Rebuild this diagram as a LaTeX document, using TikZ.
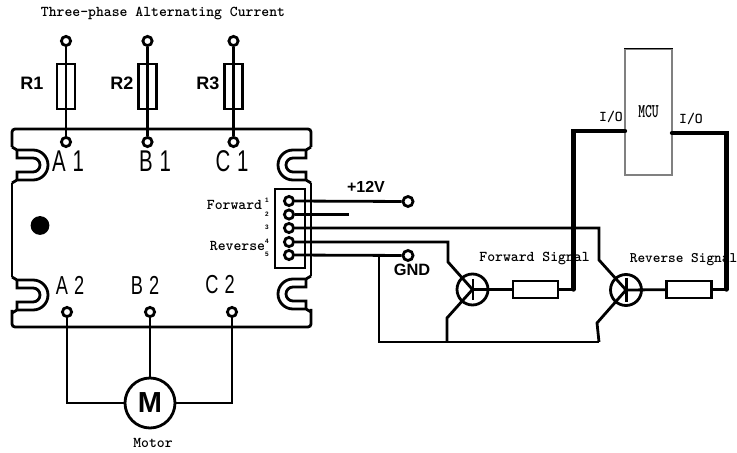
\documentclass[tikz,border=0pt]{standalone}
\usepackage{fontspec}
\setsansfont{Liberation Sans}
\usetikzlibrary{positioning}

\tikzset{
  wire/.style={line width=1.4pt},
  thickwire/.style={line width=2.2pt},
  pad/.style={draw,circle,wire,fill=white,inner sep=0pt,minimum size=4.6pt},
  fuse/.style={draw,rectangle,wire,inner sep=0pt,minimum width=9pt,minimum height=22.5pt},
  resistor/.style={draw,rectangle,wire,fill=white,inner sep=0pt,minimum width=22.5pt,minimum height=8.5pt},
  transistor/.style={draw,circle,wire,inner sep=0pt,minimum size=15.5pt},
  monotext/.style={font=\ttfamily\bfseries\fontsize{7.5}{9}\selectfont,inner sep=0pt},
  boldtext/.style={font=\sffamily\bfseries\fontsize{9}{11}\selectfont,inner sep=0pt},
  terminaltext/.style={font=\sffamily\fontsize{15}{17}\selectfont,inner sep=0pt,xscale=.68},
  outtext/.style={font=\sffamily\fontsize{13}{15}\selectfont,inner sep=0pt,xscale=.7},
  pintext/.style={font=\sffamily\bfseries\fontsize{3.2}{4}\selectfont,inner sep=0pt},
}

\begin{document}
\begin{tikzpicture}[x=0.5pt,y=0.5pt]

\newcommand{\mynotchleft}[1]{% y haut
\draw[wire] (12,#1+3) -- (17,#1) -- (33,#1) arc (90:-90:15) -- (17,#1-30) -- (12,#1-33);
\draw[wire] (17,#1) -- (17,#1-8) -- (33,#1-8) arc (90:-90:7) -- (17,#1-22) -- (17,#1-30);
}
\newcommand{\mynotchright}[1]{% y haut
\draw[wire] (311,#1+3) -- (306,#1) -- (293,#1) arc (90:270:15) -- (306,#1-30) -- (311,#1-33);
\draw[wire] (306,#1) -- (306,#1-8) -- (293,#1-8) arc (90:270:7) -- (306,#1-22) -- (306,#1-30);
}

\useasboundingbox (0,0) rectangle (737,-453);

%board
\draw[wire,rounded corners=1.5pt] (12,-147) -- (12,-129) -- (311,-129) -- (311,-147);
\draw[wire,rounded corners=1.5pt] (12,-310) -- (12,-327) -- (311,-327) -- (311,-309);
\draw[wire] (12,-183) -- (12,-277);
\draw[wire] (311,-183) -- (311,-276);
\mynotchleft{-150}
\mynotchleft{-280}
\mynotchright{-150}
\mynotchright{-279}
\fill (40,-225.5) circle (4.7pt);

%three phase input
\node[monotext] (title) at (163,-14) {Three-phase Alternating Current};
\node[pad] (t1) at (66,-41) {};
\node[pad] (t2) at (147.5,-41) {};
\node[pad] (t3) at (233.5,-41) {};
\node[pad] (a1) at (66,-142) {};
\node[pad] (b1) at (147.5,-142) {};
\node[pad] (c1) at (233.5,-142) {};
\draw[wire] (t1) -- (a1);
\draw[wire] (t2) -- (b1);
\draw[wire] (t3) -- (c1);
\node[fuse] (f1) at (66,-86.5) {};
\node[fuse] (f2) at (147.5,-86.5) {};
\node[fuse] (f3) at (233.5,-86.5) {};
\node[boldtext] (r1) at (32,-83) {R1};
\node[boldtext] (r2) at (122,-83) {R2};
\node[boldtext] (r3) at (208,-83) {R3};
\node[terminaltext] (a1text) at (68,-161) {A\,\,1};
\node[terminaltext] (b1text) at (155,-161) {B\,\,1};
\node[terminaltext] (c1text) at (232,-161) {C\,\,1};

%motor
\node[outtext] (a2text) at (70,-285) {A\,\,2};
\node[outtext] (b2text) at (145,-285) {B\,\,2};
\node[outtext] (c2text) at (220,-285) {C\,\,2};
\node[pad] (a2) at (67,-312) {};
\node[pad] (b2) at (150,-312) {};
\node[pad] (c2) at (232,-312) {};
\node[draw,circle,wire,inner sep=0pt,minimum size=25pt,font=\sffamily\bfseries\fontsize{14.5}{16}\selectfont] (motor) at (150,-403) {M};
\node[monotext] (motorname) at (153,-443) {Motor};
\draw[wire] (a2) |- (motor);
\draw[wire] (b2) -- (motor);
\draw[wire] (c2) |- (motor);

%connector
\node[draw,rectangle,wire,inner sep=0pt,minimum width=15pt,minimum height=39.5pt] (socket) at (290,-228.5) {};
\node[pad] (p1) at (289,-201) {};
\node[pad] (p2) at (289,-214.5) {};
\node[pad] (p3) at (289,-228) {};
\node[pad] (p4) at (289,-242) {};
\node[pad] (p5) at (289,-255) {};
\node[pintext] (n1) at (267,-200) {1};
\node[pintext] (n2) at (267,-214) {2};
\node[pintext] (n3) at (267,-227.5) {3};
\node[pintext] (n4) at (267,-241) {4};
\node[pintext] (n5) at (267,-254) {5};
\node[monotext] (fwd) at (234.5,-205) {Forward};
\node[monotext] (rev) at (237.5,-246) {Reverse};

%power
\node[pad,minimum size=5pt] (vcc) at (408,-201.5) {};
\node[pad,minimum size=5pt] (gnd) at (408,-255.5) {};
\node[boldtext,font=\sffamily\bfseries\fontsize{8}{10}\selectfont] (vcctext) at (366,-187) {+12V};
\node[boldtext,font=\sffamily\bfseries\fontsize{8.2}{10}\selectfont] (gndtext) at (412,-270) {GND};
\coordinate (p2end) at (349,-214.5);
\draw[wire] (p1) -- (vcc);
\draw[wire] (p2) -- (p2end);
\draw[wire] (p5) -- (gnd);

%forward transistor
\node[transistor] (q1) at (472.5,-289.5) {};
\coordinate (q1top) at (448,-262);
\coordinate (q1bot) at (447,-318);
\coordinate (q1gnd) at (447,-342);
\coordinate (q1bara) at (473,-279);
\coordinate (q1barb) at (473,-300);
\draw[wire] (p4) -| (q1top) -- (q1.center) -- (q1bot) -- (q1gnd);
\draw[wire] (q1bara) -- (q1barb);

%reverse transistor
\node[transistor] (q2) at (626,-290) {};
\coordinate (q2top) at (599,-260);
\coordinate (q2bot) at (597,-323);
\coordinate (q2gnd) at (599,-342);
\coordinate (q2bara) at (626.5,-278);
\coordinate (q2barb) at (626.5,-302);
\draw[wire] (p3) -| (q2top) -- (q2.center) -- (q2bot) -- (q2gnd);
\draw[wire] (q2bara) -- (q2barb);

%common return
\coordinate (gndjoin) at (379,-255.5);
\draw[wire] (gndjoin) |- (q2gnd);

%signal resistors
\node[resistor] (rf) at (535.5,-289.5) {};
\node[resistor] (rr) at (689,-289.5) {};
\draw[wire] (q1.center) -- (rf);
\draw[wire] (q2.center) -- (rr);
\node[monotext] (fwdsig) at (534.5,-259) {Forward Signal};
\node[monotext,font=\ttfamily\bfseries\fontsize{7.3}{9}\selectfont] (revsig) at (683.5,-260) {Reverse Signal};

%mcu
\node[draw=black!50,rectangle,line width=.6pt,inner sep=0pt,minimum width=23.5pt,minimum height=63pt] (mcu) at (648.5,-112) {};
\draw[line width=.6pt] (mcu.north west) -- (mcu.north east);
\node[monotext,font=\ttfamily\bfseries\fontsize{6.5}{8}\selectfont,yscale=1.5] (mcutext) at (mcu) {MCU};
\node[monotext] (iol) at (611,-117) {I/O};
\node[monotext] (ior) at (691,-119) {I/O};
\coordinate (mcul) at (625,-131);
\coordinate (mcur) at (672,-133);
\coordinate (cornl) at (573.5,-131);
\coordinate (cornr) at (726.5,-133);
\coordinate (downl) at (573.5,-289.5);
\coordinate (downr) at (726.5,-289.5);
\draw[wire] (rf) -- (downl);
\draw[wire] (rr) -- (downr);
\draw[thickwire,line cap=round] (mcul) -- (cornl) -- (downl);
\draw[thickwire,line cap=round] (mcur) -- (cornr) -- (downr);

\end{tikzpicture}
\end{document}
